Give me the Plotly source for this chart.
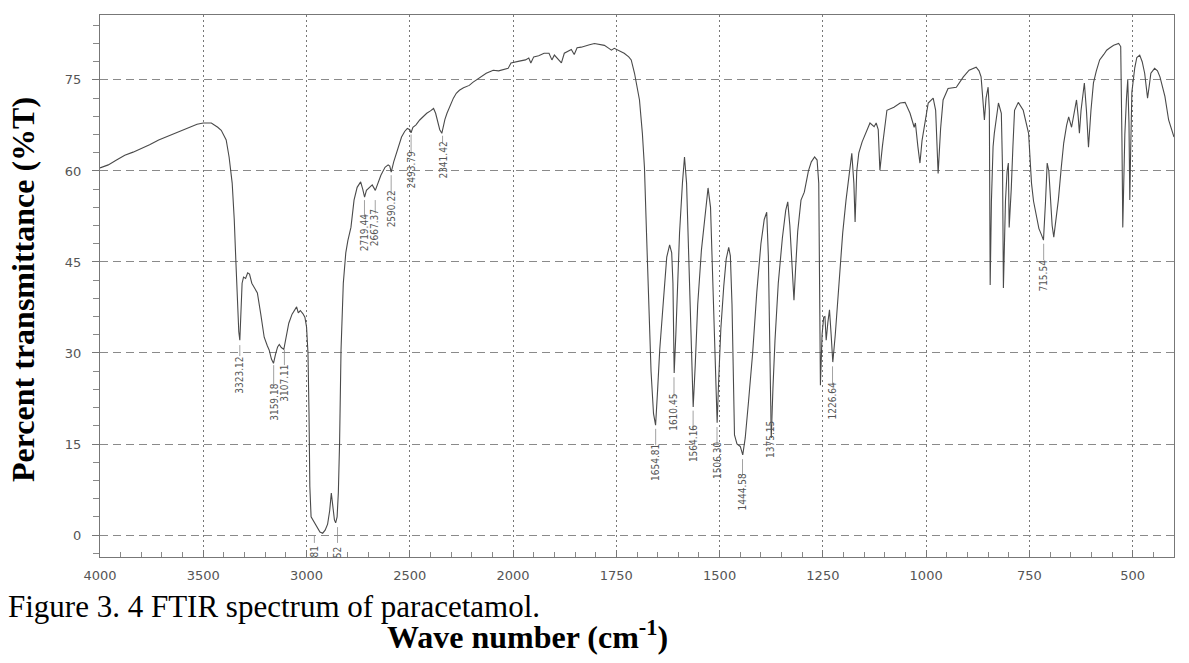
import plotly.graph_objects as go

# ---------------- data ----------------
wavenumber = [
    4000, 3960, 3920, 3880, 3840, 3800, 3760, 3716, 3680, 3650, 3620, 3590, 3557, 3530, 3500,
    3461, 3430, 3413, 3389, 3375, 3360, 3350, 3342, 3335, 3328, 3323, 3318, 3312, 3305, 3295,
    3285, 3276, 3265, 3250, 3238, 3222, 3205, 3190, 3181, 3170, 3160, 3150, 3140, 3132, 3122,
    3110, 3100, 3086, 3070, 3055, 3048, 3040, 3030, 3018, 3008, 3000, 2993, 2988, 2984, 2978,
    2965, 2950, 2935, 2922, 2910, 2898, 2888, 2880, 2872, 2865, 2859, 2852, 2846, 2840, 2833,
    2822, 2810, 2800, 2785, 2770, 2755, 2738, 2728, 2719, 2710, 2696, 2682, 2667, 2655, 2640,
    2620, 2605, 2597, 2590, 2578, 2565, 2552, 2540, 2525, 2512, 2500, 2494, 2485, 2470, 2452,
    2435, 2418, 2400, 2385, 2375, 2365, 2355, 2345, 2338, 2330, 2320, 2305, 2289, 2275, 2260,
    2240, 2212, 2195, 2178, 2155, 2130, 2110, 2096, 2070, 2048, 2024, 2010, 2000, 1985, 1970,
    1962, 1957, 1950, 1938, 1925, 1913, 1906, 1900, 1893, 1883, 1876, 1865, 1859, 1852, 1845,
    1835, 1828, 1815, 1803, 1790, 1779, 1768, 1762, 1755, 1745, 1731, 1720, 1714, 1706, 1700,
    1694, 1687, 1682, 1677, 1672, 1666, 1660, 1655, 1650, 1645, 1636, 1628, 1621, 1616, 1613,
    1610, 1606, 1602, 1597, 1590, 1585, 1580, 1575, 1570, 1564, 1559, 1553, 1544, 1535, 1528,
    1522, 1517, 1512, 1509, 1506, 1502, 1497, 1490, 1484, 1478, 1474, 1470, 1467, 1464, 1458,
    1450, 1444, 1438, 1430, 1420, 1410, 1400, 1392, 1386, 1382, 1378, 1375, 1371, 1366, 1358,
    1348, 1340, 1335, 1330, 1325, 1320, 1316, 1311, 1303, 1295, 1285, 1278, 1270, 1264, 1260,
    1258, 1256, 1252, 1248, 1245, 1242, 1238, 1234, 1230, 1226, 1220, 1214, 1202, 1194, 1187,
    1180, 1175, 1172, 1168, 1163, 1155, 1143, 1136, 1126, 1121, 1116, 1112, 1106, 1100, 1095,
    1078, 1063, 1051, 1039, 1029, 1026, 1020, 1015, 1010, 1005, 995, 983, 977, 971, 965,
    959, 947, 927, 910, 896, 879, 872, 867, 863, 859, 855, 850, 847, 845, 842,
    838, 835, 825, 818, 815, 813, 810, 808, 804, 801, 799, 796, 794, 790, 786,
    777, 765, 752, 745, 740, 733, 727, 721, 716, 711, 707, 703, 699, 695, 691,
    686, 680, 673, 667, 660, 655, 648, 642, 636, 632, 629, 625, 617, 612, 607,
    601, 595, 588, 580, 570, 563, 555, 546, 534, 529, 526, 524, 521, 519, 515,
    512, 509, 507, 505, 502, 495, 490, 483, 477, 471, 467, 464, 460, 456, 447,
    440, 434, 428, 422, 413, 405, 400,
]
transmittance = [
    60.5, 61.0, 61.8, 62.6, 63.1, 63.7, 64.3, 65.1, 65.6, 66.0, 66.4, 66.9, 67.4, 67.7, 67.9,
    67.9, 67.2, 66.7, 65.1, 62.3, 58.0, 52.0, 45.0, 38.0, 33.5, 32.1, 37.0, 41.5, 42.5, 42.3,
    43.2, 43.0, 41.5, 40.6, 39.9, 36.5, 32.6, 31.2, 30.5, 29.0, 28.3, 29.8, 31.0, 31.4, 30.9,
    30.6, 32.5, 34.9, 36.4, 37.4, 37.6, 36.6, 37.0, 36.5, 35.9, 34.3, 30.0, 20.0, 8.0, 3.0,
    2.2, 1.3, 0.5, 0.3, 0.8, 1.8, 4.0, 6.9, 5.0, 2.5, 2.0, 3.0, 7.0, 15.2, 30.5,
    41.5, 46.5, 48.5, 50.7, 55.2, 57.3, 58.2, 57.0, 55.7, 56.8, 57.3, 57.7, 56.8, 58.0, 59.3,
    60.6, 61.0, 60.8, 59.8, 61.5, 62.9, 64.3, 65.6, 66.5, 67.0, 66.8, 66.3, 67.2, 67.6, 68.4,
    69.0, 69.5, 69.9, 70.3, 69.5, 68.0, 66.8, 66.2, 67.5, 68.5, 69.5, 70.8, 72.0, 72.8, 73.3,
    73.7, 74.1, 74.6, 75.0, 75.6, 76.1, 76.4, 76.6, 76.5, 76.7, 76.9, 77.8, 77.9, 78.1, 78.3,
    78.6, 77.8, 78.8, 79.0, 79.4, 79.4, 78.3, 79.1, 78.6, 77.8, 79.4, 79.8, 80.0, 79.2, 80.3,
    80.4, 80.5, 80.8, 81.0, 80.9, 80.7, 80.2, 79.9, 80.2, 79.9, 79.4, 78.8, 78.3, 76.1, 74.0,
    71.7, 66.2, 60.6, 49.8, 38.0, 27.0, 20.0, 18.1, 24.0, 30.5, 38.7, 45.8, 47.8, 46.5, 41.5,
    26.7, 33.0, 40.0, 49.8, 58.0, 62.3, 58.0, 47.0, 33.0, 21.1, 28.0, 38.0, 47.0, 52.4, 57.2,
    54.0, 42.0, 30.0, 24.0, 18.5, 26.0, 34.0, 41.0, 45.5, 47.4, 46.0, 38.0, 26.0, 16.5, 15.0,
    14.6, 13.2, 16.0, 22.0, 30.0, 40.0, 48.0, 52.0, 53.2, 46.0, 30.0, 16.0, 24.0, 32.0, 41.5,
    49.0, 53.5, 54.9, 51.0, 44.0, 38.7, 44.0, 50.0, 55.2, 56.5, 60.0, 61.5, 62.3, 61.8, 58.0,
    40.0, 24.7, 33.0, 35.9, 36.0, 32.1, 35.0, 37.1, 33.0, 28.5, 33.0, 38.7, 49.8, 55.2, 59.5,
    62.9, 58.0, 51.6, 60.0, 63.0, 64.8, 66.7, 67.9, 67.3, 67.9, 66.8, 60.1, 64.0, 67.5, 70.0,
    70.5, 71.2, 71.3, 69.5, 67.2, 67.9, 64.0, 61.3, 65.0, 67.2, 71.2, 72.0, 70.0, 59.6, 67.0,
    71.7, 73.6, 73.8, 75.5, 76.6, 77.1, 76.5, 75.5, 72.0, 68.4, 72.0, 73.8, 70.0, 41.2, 55.0,
    64.0, 66.2, 71.2, 69.5, 60.0, 40.7, 50.0, 55.0, 60.0, 61.3, 50.7, 54.0, 57.0, 64.0, 70.0,
    71.3, 70.0, 66.2, 58.0, 55.0, 52.4, 50.5, 49.5, 48.6, 55.0, 61.3, 60.0, 56.0, 51.0, 49.1,
    52.0, 55.2, 60.5, 64.6, 67.5, 68.9, 67.2, 69.5, 71.7, 69.0, 66.2, 70.0, 74.5, 70.0, 63.9,
    70.0, 74.5, 76.5, 78.3, 79.2, 79.9, 80.3, 80.7, 81.0, 80.5, 65.0, 50.7, 60.0, 66.0, 72.0,
    75.0, 68.0, 55.2, 63.0, 73.0, 77.0, 78.7, 79.1, 78.0, 76.1, 74.0, 72.0, 74.0, 76.1, 76.9,
    76.5, 75.5, 74.0, 72.3, 68.4, 66.5, 65.6,
]

# peak labels: text, wavenumber, label-centre %T, leader from / to %T
peak_text = ["3323.12", "3159.18", "3107.11", "81", "52", "2719.44", "2667.37", "2590.22",
             "2493.79", "2341.42", "1654.81", "1610.45", "1564.16", "1506.30", "1444.58",
             "1375.15", "1226.64", "715.54"]
peak_wn = [3323.12, 3159.18, 3107.11, 2962, 2850, 2719.44, 2667.37, 2590.22,
           2493.79, 2341.42, 1654.81, 1610.45, 1564.16, 1506.30, 1444.58,
           1375.15, 1226.64, 715.54]
peak_text_T = [26.4, 21.9, 25.0, -2.8, -2.9, 49.8, 50.6, 53.7,
               60.1, 61.8, 12.0, 20.3, 15.0, 12.2, 7.1,
               15.7, 22.1, 42.7]
peak_lead_from = [31.3, 28.0, 30.5, 0.0, 1.3, 55.2, 55.2, 59.3,
                  66.0, 65.8, 17.5, 26.0, 20.5, 17.8, 12.5,
                  21.3, 27.8, 48.0]
peak_lead_to = [29.5, 24.7, 28.0, -1.3, -1.3, 52.4, 53.0, 56.0,
                63.0, 64.5, 14.8, 22.8, 17.5, 14.8, 9.8,
                18.2, 24.7, 45.3]

x_tick_wn = [4000, 3500, 3000, 2500, 2000, 1750, 1500, 1250, 1000, 750, 500]
y_ticks = [0, 15, 30, 45, 60, 75]

x_title = "<b>Wave number (cm<sup>-1</sup>)</b>"
y_title = "<b>Percent transmittance (%T)</b>"
caption = "Figure 3. 4 FTIR spectrum of paracetamol."


# The instrument's axis changes scale at 2000 cm-1 (500 per division above,
# 250 per division below); map wavenumbers onto equal divisions.
def to_div(w):
    return (4000 - w) / 500 if w >= 2000 else 4 + (2000 - w) / 250


x_div = [to_div(w) for w in wavenumber]

# ---------------- figure ----------------
L, R, T, B = 100, 15, 15, 106
W, H = 1189, 663
PW, PH = W - L - R, H - T - B


def px_to_paper_x(px):
    return (px - L) / PW


def py_to_paper_y(py):
    return (H - B - py) / PH


fig = go.Figure()

fig.add_trace(go.Scatter(
    x=x_div, y=transmittance, mode="lines",
    line=dict(color="#4a4a4a", width=1.1),
    hoverinfo="skip", showlegend=False,
))

# leader lines for peak labels
lx, ly = [], []
for w, a, b in zip(peak_wn, peak_lead_from, peak_lead_to):
    u = to_div(w)
    lx += [u, u, None]
    ly += [a, b, None]
fig.add_trace(go.Scatter(
    x=lx, y=ly, mode="lines", line=dict(color="#8a8a8a", width=0.8),
    hoverinfo="skip", showlegend=False,
))

annotations = []
for t, w, yc in zip(peak_text, peak_wn, peak_text_T):
    annotations.append(dict(
        x=to_div(w), y=yc, xref="x", yref="y", text=t, showarrow=False,
        textangle=-90, xanchor="center", yanchor="middle",
        font=dict(family="Liberation Sans Narrow, DejaVu Sans Condensed, Arial Narrow, sans-serif",
                  size=10, color="#555555"),
    ))

annotations.append(dict(
    x=px_to_paper_x(23), y=py_to_paper_y(290), xref="paper", yref="paper",
    text=y_title, showarrow=False, textangle=-90, xanchor="center", yanchor="middle",
    font=dict(family="Liberation Serif, Times New Roman, serif", size=32, color="#000000"),
))
annotations.append(dict(
    x=px_to_paper_x(527), y=py_to_paper_y(635), xref="paper", yref="paper",
    text=x_title, showarrow=False, xanchor="center", yanchor="middle",
    font=dict(family="Liberation Serif, Times New Roman, serif", size=32, color="#000000"),
))
annotations.append(dict(
    x=px_to_paper_x(6), y=py_to_paper_y(606), xref="paper", yref="paper",
    text=caption, showarrow=False, xanchor="left", yanchor="middle",
    font=dict(family="Liberation Serif, Times New Roman, serif", size=31, color="#000000"),
))

fig.update_layout(
    width=W, height=H,
    margin=dict(l=L, r=R, t=T, b=B, pad=0),
    paper_bgcolor="white", plot_bgcolor="white",
    annotations=annotations,
    xaxis=dict(
        range=[0, to_div(400)],
        tickmode="array",
        tickvals=[to_div(w) for w in x_tick_wn],
        ticktext=[str(w) for w in x_tick_wn],
        ticks="inside", ticklen=7, tickcolor="#777777",
        tickfont=dict(family="DejaVu Sans, sans-serif", size=13, color="#555555"),
        ticklabelstandoff=6,
        showgrid=True, gridcolor="#777777", gridwidth=1.3, griddash="2px,3px",
        showline=True, linecolor="#777777", linewidth=1, mirror=True,
        zeroline=False,
        minor=dict(tickmode="linear", tick0=0, dtick=0.2, ticks="inside", ticklen=5,
                   tickcolor="#888888", showgrid=False),
    ),
    yaxis=dict(
        range=[-3.62, 85.7],
        tickmode="array", tickvals=y_ticks, ticktext=[str(v) for v in y_ticks],
        ticks="outside", ticklen=7, tickcolor="#777777",
        tickfont=dict(family="DejaVu Sans, sans-serif", size=13, color="#555555"),
        ticklabelstandoff=8,
        showgrid=True, gridcolor="#8a8a8a", gridwidth=1, griddash="8px,5px",
        showline=True, linecolor="#777777", linewidth=1, mirror=True,
        zeroline=False,
        minor=dict(tickmode="linear", tick0=0, dtick=3, ticks="outside", ticklen=6,
                   tickcolor="#888888", showgrid=False),
    ),
)

fig.write_html("out.html")
